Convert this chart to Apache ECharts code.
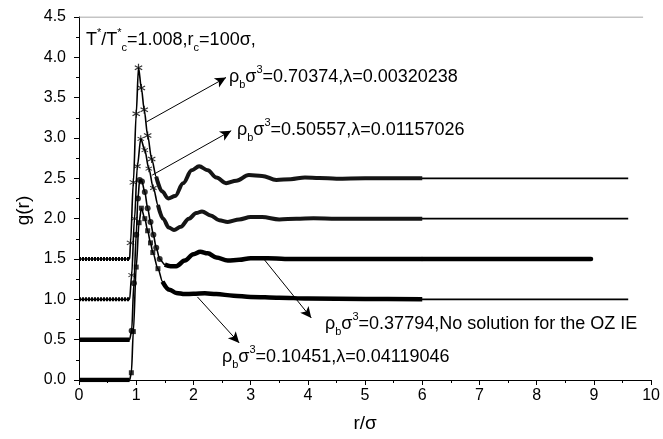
<!DOCTYPE html>
<html>
<head>
<meta charset="utf-8">
<script src="https://cdn.jsdelivr.net/npm/echarts@6/dist/echarts.min.js"></script>
<style>html,body{margin:0;padding:0;background:#fff}#c{width:663px;height:439px}</style>
</head>
<body>
<div id="c"></div>
<script>
// ---- data (plotted, already offset values) ----
// rho=0.70374 (offset 1.5)
const r_A = [0, 0.885, 0.90, 0.95, 1.00, 1.04, 1.09, 1.14, 1.20, 1.27, 1.35, 1.45, 1.56, 1.68, 1.82, 1.97, 2.10, 2.25, 2.40, 2.57, 2.75, 2.97, 3.20, 3.45, 3.70, 3.95, 4.20, 4.50, 5.00, 5.50, 6.00];
const g_A = [1.5, 1.5, 1.70, 2.45, 3.30, 3.87, 3.62, 3.35, 3.03, 2.74, 2.52, 2.34, 2.25, 2.28, 2.44, 2.60, 2.65, 2.60, 2.51, 2.44, 2.47, 2.54, 2.53, 2.48, 2.49, 2.51, 2.505, 2.495, 2.50, 2.50, 2.50];
// rho=0.50557 (offset 1.0)
const r_B = [0, 0.885, 0.92, 0.97, 1.02, 1.08, 1.15, 1.22, 1.30, 1.38, 1.47, 1.57, 1.66, 1.78, 1.92, 2.05, 2.15, 2.30, 2.45, 2.60, 2.80, 3.00, 3.20, 3.50, 3.80, 4.10, 4.50, 5.00, 6.00];
const g_B = [1.0, 1.0, 1.30, 2.00, 2.65, 2.99, 2.85, 2.62, 2.38, 2.17, 2.00, 1.89, 1.86, 1.90, 2.00, 2.07, 2.09, 2.04, 1.98, 1.96, 1.99, 2.02, 2.02, 1.99, 2.00, 2.005, 2.00, 2.00, 2.00];
// rho=0.37794 (offset 0.5)
const r_C = [0, 0.885, 0.92, 0.96, 1.00, 1.03, 1.06, 1.10, 1.15, 1.20, 1.25, 1.30, 1.35, 1.41, 1.50, 1.60, 1.70, 1.85, 2.00, 2.12, 2.25, 2.40, 2.60, 2.80, 3.00, 3.30, 3.60, 4.00, 5.00, 6.00];
const g_C = [0.5, 0.5, 0.61, 1.20, 1.80, 2.25, 2.48, 2.46, 2.33, 2.13, 1.96, 1.80, 1.64, 1.50, 1.43, 1.41, 1.41, 1.48, 1.56, 1.59, 1.57, 1.52, 1.48, 1.49, 1.51, 1.51, 1.50, 1.50, 1.50, 1.50];
// rho=0.10451 (offset 0)
const r_D = [0, 0.885, 0.915, 0.95, 1.00, 1.05, 1.09, 1.15, 1.20, 1.25, 1.29, 1.38, 1.46, 1.58, 1.70, 1.85, 2.00, 2.20, 2.40, 2.70, 3.00, 3.50, 4.00, 5.00, 6.00];
const g_D = [0.0, 0.0, 0.09, 0.60, 1.40, 1.95, 2.13, 2.00, 1.85, 1.70, 1.58, 1.38, 1.22, 1.12, 1.08, 1.065, 1.07, 1.075, 1.065, 1.045, 1.03, 1.02, 1.01, 1.005, 1.00];
// continuation of each curve beyond the marker range: [r, g]
const ext_A = [9.6, 2.5];
const ext_B = [9.6, 2.0];
const ext_C = [8.95, 1.5];
const ext_D = [9.6, 1.0];
// axis ticks
const xTicks = [0, 1, 2, 3, 4, 5, 6, 7, 8, 9, 10];
const yTicks = [0.0, 0.5, 1.0, 1.5, 2.0, 2.5, 3.0, 3.5, 4.0, 4.5];
const frameTop = [[0, 4.5], [9.86, 4.5]];

const FONT = '"Liberation Sans", Arial, sans-serif';
const ASTER = 'path://M4.3,0L5.7,0L5.7,10L4.3,10ZM0.4,3.1L1.1,1.9L9.6,6.9L8.9,8.1ZM8.9,1.9L9.6,3.1L1.1,8.1L0.4,6.9Z';

function pairs(r, g) { return r.map((x, i) => [x, g[i]]); }

const curves = [
  { r: r_A, g: g_A, ext: ext_A, start: 1.35, symbol: ASTER, size: 8, bandW: 4, baseDash: [2, 1], col: '#151515' },
  { r: r_B, g: g_B, ext: ext_B, start: 1.38, symbol: ASTER, size: 7, bandW: 4, baseDash: [2, 1], col: '#151515' },
  { r: r_C, g: g_C, ext: ext_C, start: 1.50, symbol: 'circle', size: 6, bandW: 4.5, baseDash: 'solid', col: '#000', thickExt: true },
  { r: r_D, g: g_D, ext: ext_D, start: 1.46, symbol: 'rect', size: 5, bandW: 4.5, baseDash: 'solid', col: '#000' }
];

const series = [];
curves.forEach(c => {
  const all = pairs(c.r, c.g);
  series.push({ type: 'line', data: all.concat([c.ext]), smooth: 0.3, smoothMonotone: 'x', showSymbol: false, silent: true,
    lineStyle: { color: '#000', width: 1.6 }, z: 3 });
  series.push({ type: 'line', data: all.filter(p => p[0] <= 0.885), showSymbol: false, silent: true,
    lineStyle: { color: '#000', width: c.bandW, type: c.baseDash, cap: 'butt' }, z: 4 });
  series.push({ type: 'line', data: all.filter(p => p[0] >= c.start), smooth: 0.35, smoothMonotone: 'x', showSymbol: false, silent: true,
    lineStyle: { color: c.col, width: c.bandW }, z: 4 });
  if (c.thickExt) {
    series.push({ type: 'line', data: [all[all.length - 1], c.ext], showSymbol: false, silent: true,
      lineStyle: { color: '#000', width: 4.5, cap: 'round' }, z: 4 });
  }
  series.push({ type: 'scatter', data: all.filter(p => p[0] > 0.885 && p[0] < c.start), symbol: c.symbol, symbolSize: c.size,
    itemStyle: { color: '#000' }, silent: true, z: 5 });
});

// annotation arrows (data coordinates of start and head)
const arrows = [
  [[1.18, 3.20], [2.57, 3.75]],
  [[1.28, 2.54], [2.66, 3.09]],
  [[3.23, 1.50], [4.06, 0.77]],
  [[2.07, 1.03], [2.80, 0.46]]
];
series.push({ type: 'line', data: frameTop, showSymbol: false, silent: true,
  lineStyle: { color: '#8a8a8a', width: 1 }, z: 2,
  markLine: { silent: true, animation: false, label: { show: false },
    lineStyle: { color: '#000', width: 1, type: 'solid' },
    data: arrows.map(a => [{ coord: a[0], symbol: 'none' }, { coord: a[1], symbol: 'arrow', symbolSize: [8, 11] }]) } });

const rich = {
  m: { fontSize: 18, fontFamily: FONT, color: '#000', lineHeight: 26 },
  sup: { fontSize: 11, fontFamily: FONT, color: '#000', verticalAlign: 'top', lineHeight: 12 },
  sub: { fontSize: 11, fontFamily: FONT, color: '#000', verticalAlign: 'bottom', lineHeight: 12 }
};
function label(x, y, text) {
  return { type: 'text', left: x, top: y, silent: true, style: { text: text, rich: rich, font: '18px ' + FONT, fill: '#000' } };
}

const chart = echarts.init(document.getElementById('c'), null, { renderer: 'canvas' });
chart.setOption({
  animation: false,
  backgroundColor: '#fff',
  grid: { left: 79, right: 8, top: 17, bottom: 59 },
  xAxis: {
    type: 'value', min: xTicks[0], max: xTicks[xTicks.length - 1], interval: 1,
    name: 'r/σ', nameLocation: 'middle', nameGap: 34,
    nameTextStyle: { fontSize: 19, fontFamily: FONT, color: '#000' },
    axisLine: { show: true, onZero: false, lineStyle: { color: '#000', width: 1 } },
    axisTick: { show: true, inside: false, length: 5, lineStyle: { color: '#000' } },
    minorTick: { show: true, splitNumber: 2, length: 3, lineStyle: { color: '#000' } },
    splitLine: { show: false },
    axisLabel: { fontSize: 16, fontFamily: FONT, color: '#000', margin: 8 }
  },
  yAxis: {
    type: 'value', min: yTicks[0], max: yTicks[yTicks.length - 1], interval: 0.5,
    name: 'g(r)', nameLocation: 'middle', nameGap: 45,
    nameTextStyle: { fontSize: 19, fontFamily: FONT, color: '#000', padding: [0, 24, 0, 0] },
    axisLine: { show: true, onZero: false, lineStyle: { color: '#000', width: 1 } },
    axisTick: { show: true, inside: false, length: 5, lineStyle: { color: '#000' } },
    minorTick: { show: true, splitNumber: 2, length: 3, lineStyle: { color: '#000' } },
    splitLine: { show: false },
    axisLabel: { fontSize: 16, fontFamily: FONT, color: '#000', margin: 13, formatter: v => v.toFixed(1) }
  },
  series: series,
  graphic: [
    label(86, 27, '{m|T}{sup|*}{m|/T}{sup|*}{sub|c}{m|=1.008,r}{sub|c}{m|=100σ,}'),
    label(229, 64, '{m|ρ}{sub|b}{m|σ}{sup|3}{m|=0.70374,λ=0.00320238}'),
    label(237, 117, '{m|ρ}{sub|b}{m|σ}{sup|3}{m|=0.50557,λ=0.01157026}'),
    label(325, 311, '{m|ρ}{sub|b}{m|σ}{sup|3}{m|=0.37794,No solution for the OZ IE}'),
    label(222, 344, '{m|ρ}{sub|b}{m|σ}{sup|3}{m|=0.10451,λ=0.04119046}')
  ]
});
</script>
</body>
</html>
